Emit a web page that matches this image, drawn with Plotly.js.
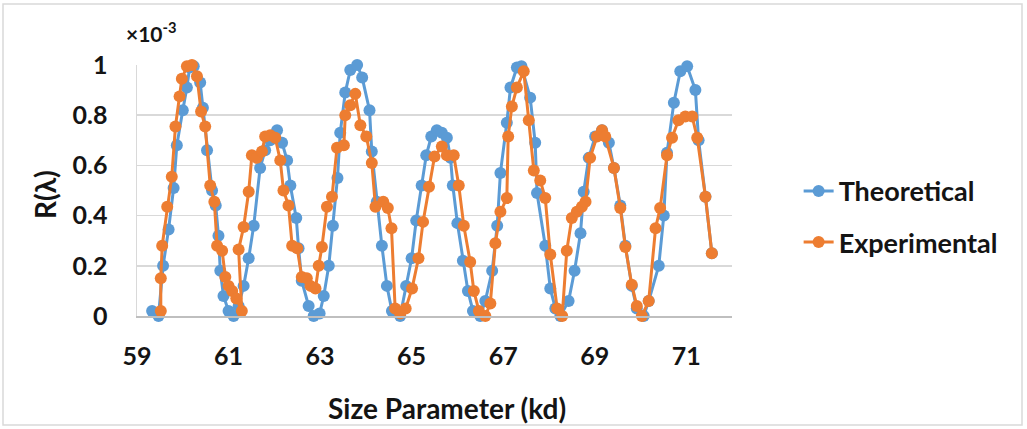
<!DOCTYPE html>
<html>
<head>
<meta charset="utf-8">
<script src="https://cdn.plot.ly/plotly-3.0.1.min.js"></script>
<style>
html,body{margin:0;padding:0;background:#fff;}
#chart{width:1027px;height:429px;}
</style>
</head>
<body>
<div id="chart"></div>
<script>
// Theoretical series (x = size parameter kd, y = R(λ) ×10^-3)
var theoX = [59.33,59.47,59.57,59.69,59.80,59.87,60.00,60.09,60.15,60.24,60.38,60.44,60.53,60.64,60.72,60.78,60.82,60.89,61.00,61.11,61.22,61.33,61.44,61.55,61.69,61.80,61.91,62.06,62.17,62.28,62.35,62.48,62.53,62.60,62.75,62.86,62.99,63.08,63.19,63.28,63.38,63.44,63.55,63.66,63.81,63.92,64.08,64.13,64.24,64.35,64.46,64.57,64.75,64.88,65.00,65.10,65.22,65.32,65.43,65.55,65.66,65.77,65.85,65.90,66.00,66.12,66.23,66.34,66.50,66.61,66.76,66.87,66.94,67.08,67.16,67.30,67.40,67.59,67.70,67.74,67.92,68.03,68.14,68.25,68.43,68.56,68.69,68.76,68.87,69.01,69.16,69.31,69.42,69.56,69.67,69.81,69.92,70.07,70.18,70.40,70.51,70.58,70.73,70.87,71.02,71.20,71.27,71.42,71.56];
var theoY = [0.02,0.00,0.20,0.345,0.51,0.68,0.82,0.91,0.99,0.995,0.93,0.83,0.66,0.50,0.44,0.32,0.18,0.08,0.02,0.00,0.04,0.12,0.23,0.36,0.59,0.66,0.70,0.74,0.69,0.62,0.52,0.39,0.27,0.14,0.04,0.00,0.01,0.08,0.20,0.36,0.55,0.73,0.89,0.98,1.00,0.95,0.82,0.655,0.455,0.28,0.12,0.02,0.00,0.12,0.23,0.38,0.52,0.64,0.715,0.74,0.73,0.71,0.63,0.52,0.37,0.22,0.10,0.02,0.00,0.06,0.18,0.36,0.57,0.77,0.91,0.99,0.995,0.87,0.69,0.49,0.28,0.11,0.03,0.00,0.06,0.18,0.33,0.495,0.63,0.715,0.74,0.69,0.59,0.44,0.28,0.12,0.03,0.00,0.06,0.20,0.40,0.65,0.85,0.975,0.995,0.90,0.70,0.475,0.25];

// Experimental series
var expX = [59.52,59.52,59.55,59.66,59.76,59.84,59.93,59.98,60.09,60.20,60.31,60.40,60.49,60.60,60.69,60.75,60.86,60.93,61.00,61.08,61.17,61.29,61.22,61.33,61.44,61.51,61.62,61.73,61.80,61.91,62.02,62.13,62.20,62.31,62.39,62.50,62.60,62.71,62.79,62.90,62.97,63.04,63.15,63.26,63.37,63.52,63.55,63.66,63.77,63.88,64.01,64.13,64.21,64.38,64.48,64.56,64.64,64.75,64.87,65.01,65.15,65.25,65.38,65.50,65.66,65.77,65.92,66.03,66.14,66.28,66.36,66.47,66.61,66.72,66.83,66.94,67.08,67.11,67.19,67.30,67.45,67.56,67.67,67.81,67.92,68.03,68.18,68.29,68.39,68.50,68.61,68.72,68.80,68.90,69.05,69.16,69.23,69.42,69.56,69.67,69.81,69.92,70.03,70.18,70.33,70.43,70.58,70.69,70.83,70.98,71.13,71.24,71.42,71.56];
var expY = [0.02,0.15,0.28,0.435,0.555,0.755,0.875,0.945,0.995,1.00,0.955,0.815,0.755,0.52,0.455,0.28,0.26,0.155,0.12,0.10,0.07,0.02,0.265,0.355,0.495,0.64,0.63,0.655,0.715,0.72,0.71,0.62,0.50,0.44,0.28,0.27,0.155,0.15,0.12,0.11,0.20,0.275,0.435,0.475,0.67,0.68,0.80,0.84,0.885,0.76,0.715,0.61,0.435,0.455,0.43,0.35,0.03,0.01,0.03,0.11,0.23,0.375,0.515,0.635,0.675,0.64,0.64,0.52,0.36,0.215,0.10,0.02,0.00,0.05,0.29,0.415,0.47,0.715,0.835,0.91,0.975,0.78,0.58,0.54,0.47,0.245,0.03,0.00,0.26,0.39,0.415,0.435,0.455,0.63,0.715,0.74,0.715,0.59,0.43,0.275,0.125,0.04,0.00,0.06,0.35,0.43,0.64,0.71,0.78,0.795,0.795,0.71,0.475,0.25];

var xTicks = [59,61,63,65,67,69,71];
var yTicks = [0,0.2,0.4,0.6,0.8,1];
var seriesNames = ['Theoretical','Experimental'];

var FONT = 'Lato, "Open Sans", "DejaVu Sans", sans-serif';
var BLUE = '#5B9BD5', ORANGE = '#ED7D31';
var INK = '#141414';

var traces = [
  {x: theoX, y: theoY, name: seriesNames[0], type: 'scatter', mode: 'lines+markers',
   legendgroup: 'a', cliponaxis: false,
   line: {color: BLUE, width: 3}, marker: {color: BLUE, size: 12}},
  {x: expX, y: expY, name: seriesNames[1], type: 'scatter', mode: 'lines+markers',
   legendgroup: 'b', cliponaxis: false,
   line: {color: ORANGE, width: 3}, marker: {color: ORANGE, size: 12}}
];

var layout = {
  width: 1027, height: 429,
  margin: {l: 137, r: 295, t: 65, b: 113, pad: 0},
  paper_bgcolor: '#fff', plot_bgcolor: '#fff',
  font: {family: FONT, color: INK, size: 25, weight: 'bold'},
  showlegend: true,
  legend: {x: 1.112, xanchor: 'left', y: 0.395, yanchor: 'middle',
           traceorder: 'grouped', tracegroupgap: 13,
           font: {family: FONT, size: 27, color: INK, weight: 'bold'},
           bgcolor: 'rgba(0,0,0,0)'},
  xaxis: {range: [59, 72], tickmode: 'array', tickvals: xTicks, ticktext: xTicks.map(String),
          showgrid: false, zeroline: false, showline: true, linecolor: '#bfbfbf', linewidth: 1.5,
          ticks: '', ticklabelstandoff: 17,
          tickfont: {family: FONT, size: 25, color: INK, weight: 'bold'}},
  yaxis: {range: [0, 1], tickmode: 'array', tickvals: yTicks, ticktext: yTicks.map(String),
          showgrid: true, gridcolor: '#d9d9d9', gridwidth: 1.5, zeroline: false,
          showline: true, linecolor: '#d9d9d9', linewidth: 1.5,
          ticks: '', ticklabelstandoff: 23,
          tickfont: {family: FONT, size: 25, color: INK, weight: 'bold'}},
  annotations: [
    {text: '×10<sup>-3</sup>', xref: 'paper', yref: 'paper', x: -0.0215, y: 1.13,
     xanchor: 'left', yanchor: 'middle', showarrow: false,
     font: {family: FONT, size: 21, color: INK, weight: 'bold'}},
    {text: 'R(λ)', xref: 'paper', yref: 'paper', x: -0.1546, y: 0.482,
     xanchor: 'center', yanchor: 'middle', textangle: -90, showarrow: false,
     font: {family: FONT, size: 28, color: INK, weight: 'bold'}},
    {text: 'Size Parameter (kd)', xref: 'paper', yref: 'paper', x: 0.521, y: -0.3665,
     xanchor: 'center', yanchor: 'middle', showarrow: false,
     font: {family: FONT, size: 28, color: INK, weight: 'bold'}}
  ],
  shapes: [
    {type: 'rect', xref: 'paper', yref: 'paper', x0: -0.2252, x1: 1.4874, y0: -0.434, y1: 1.243,
     line: {color: '#d9d9d9', width: 1.5}, fillcolor: 'rgba(0,0,0,0)', layer: 'below'}
  ]
};

Plotly.newPlot('chart', traces, layout, {displayModeBar: false, staticPlot: true});
</script>
</body>
</html>
